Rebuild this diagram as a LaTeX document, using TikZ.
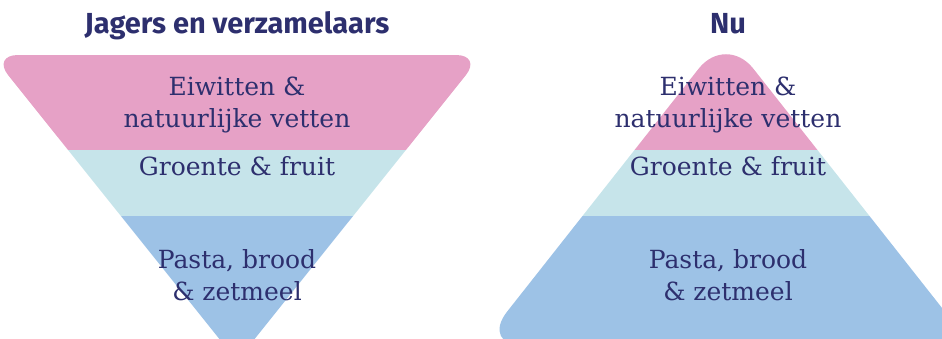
\documentclass[tikz,border=0pt]{standalone}
\usepackage{fontspec}
\setmainfont{DejaVu Serif}
\newfontfamily\titlefont{Fira Sans}
\definecolor{inkblue}{HTML}{2D2F6E}
\definecolor{bandpink}{HTML}{E6A1C6}
\definecolor{bandcyan}{HTML}{C6E4EA}
\definecolor{bandblue}{HTML}{9DC2E6}
\tikzset{
  title/.style={text=inkblue, font=\titlefont\bfseries\fontsize{29}{29}\selectfont, anchor=base},
  label/.style={text=inkblue, font=\fontsize{25}{32}\selectfont, align=center, anchor=base},
}
\begin{document}
\begin{tikzpicture}[x=1pt,y=-1pt]
      \useasboundingbox (0,0) rectangle (942,338);
      \clip (0,0) rectangle (942,338);
      % jagers en verzamelaars
      \begin{scope}
        \clip[rounded corners=26] (-8,55) -- (482,55) -- (237,361) -- cycle;
        \fill[bandpink] (-10,40) rectangle (490,150);
        \fill[bandcyan] (-10,150) rectangle (490,216);
        \fill[bandblue] (-10,216) rectangle (490,370);
      \end{scope}
      % nu
      \begin{scope}
        \clip[rounded corners=44] (726,34) -- (972,346) -- (480,346) -- cycle;
        \fill[bandpink] (460,20) rectangle (990,150);
        \fill[bandcyan] (460,150) rectangle (990,216);
        \fill[bandblue] (460,216) rectangle (990,370);
      \end{scope}
      \draw
        (237,33) node[title] (jtitle){Jagers en verzamelaars}
        (728,33) node[title] (ntitle){Nu}
        (237,127) node[label] (jeiwit){Eiwitten \&\\natuurlijke vetten}
        (237,175) node[label] (jgroen){Groente \& fruit}
        (237,300) node[label] (jpasta){Pasta, brood\\\& zetmeel}
        (728,127) node[label] (neiwit){Eiwitten \&\\natuurlijke vetten}
        (728,175) node[label] (ngroen){Groente \& fruit}
        (728,300) node[label] (npasta){Pasta, brood\\\& zetmeel};
    \end{tikzpicture}
\end{document}
